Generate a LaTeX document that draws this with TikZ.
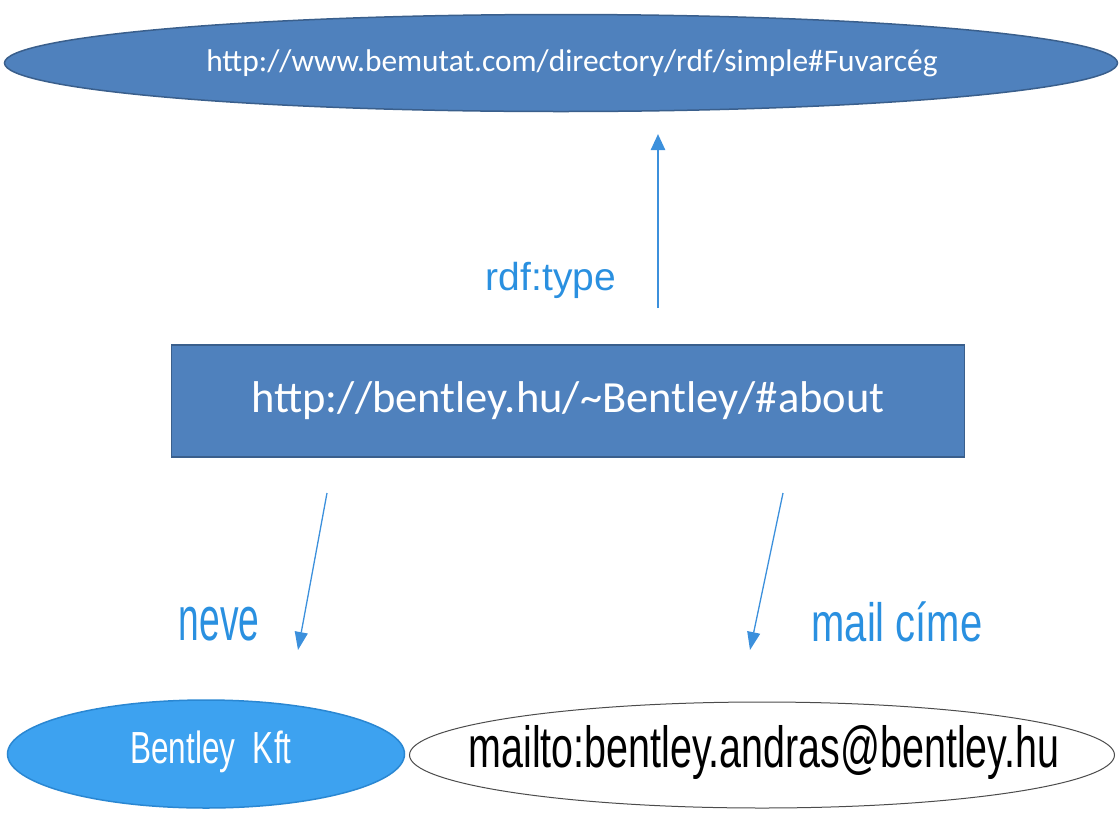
\documentclass[tikz,border=0pt]{standalone}
\usepackage{fontspec}
\usepackage{xcolor}
\usepackage{tikz}
\usetikzlibrary{arrows.meta,shapes.geometric}
\newfontfamily\calfont{Carlito}
\newfontfamily\arialfont{Liberation Sans}
\newfontfamily\nevefont[FakeStretch=0.6]{Liberation Sans}
\newfontfamily\mailfont[FakeStretch=0.74]{Liberation Sans}
\newfontfamily\kftfont[FakeStretch=0.70]{Liberation Sans}
\newfontfamily\addrfont[FakeStretch=0.68]{Liberation Sans}
\definecolor{offblue}{HTML}{4F81BD}
\definecolor{offedge}{HTML}{3A5F8C}
\definecolor{skyblue}{HTML}{3DA2F0}
\definecolor{skyedge}{HTML}{2A87D2}
\definecolor{labblue}{HTML}{2A90E0}
\definecolor{arrblue}{HTML}{3C90DC}
\tikzset{
  darkell/.style={ellipse,draw=offedge,fill=offblue,line width=1.5pt,inner sep=0pt},
  darkbox/.style={rectangle,draw=offedge,fill=offblue,line width=1.5pt,inner sep=0pt},
  label/.style={text=labblue,inner sep=0pt},
  link/.style={draw=arrblue,line width=1.3pt,-{Triangle[length=18pt,width=13pt]}}
}
\begin{document}
\begin{tikzpicture}[x=1pt,y=-1pt]
\useasboundingbox (0,0) rectangle (1120,812);
\node[darkell,minimum width=1113pt,minimum height=97pt] (klass) at (561,63) {};
\node[text=white] at (572,63)
  {\calfont\fontsize{31.4}{36}\selectfont http://www.bemutat.com/directory/rdf/simple\#Fuvarcég};
\node[darkbox,minimum width=793pt,minimum height=112pt] (subj) at (568,401) {};
\node[text=white] at (subj.center)
  {\calfont\fontsize{44.5}{50}\selectfont http://bentley.hu/\textasciitilde Bentley/\#about};
\node[ellipse,draw=skyedge,fill=skyblue,line width=1.5pt,inner sep=0pt,
  minimum width=397pt,minimum height=108pt] (nev) at (206,754) {};
\node[text=white] at (211,752) {\kftfont\fontsize{45}{50}\selectfont Bentley\ \ Kft};
\node[ellipse,draw=black!70,fill=white,line width=1pt,inner sep=0pt,
  minimum width=705pt,minimum height=106pt] (mail) at (762,755) {};
\node at (764,752) {\addrfont\fontsize{58}{62}\selectfont mailto:bentley.andras@bentley.hu};
\node[label] (typ) at (551,280) {\arialfont\fontsize{39}{44}\selectfont rdf:type};
\node[label] (nv) at (219,624) {\nevefont\fontsize{62}{66}\selectfont neve};
\node[label] (mc) at (897,622) {\mailfont\fontsize{54}{58}\selectfont mail címe};
% free arrow ends
\coordinate (up0) at (658,308);
\coordinate (up1) at (658,134);
\coordinate (l0) at (327,493);
\coordinate (l1) at (298,650);
\coordinate (r0) at (783,493);
\coordinate (r1) at (750,650);
\draw[link,line width=2.5pt,-{Triangle[length=16pt,width=14pt]}] (up0) -- (up1);
\draw[link] (l0) -- (l1);
\draw[link] (r0) -- (r1);
\end{tikzpicture}
\end{document}
